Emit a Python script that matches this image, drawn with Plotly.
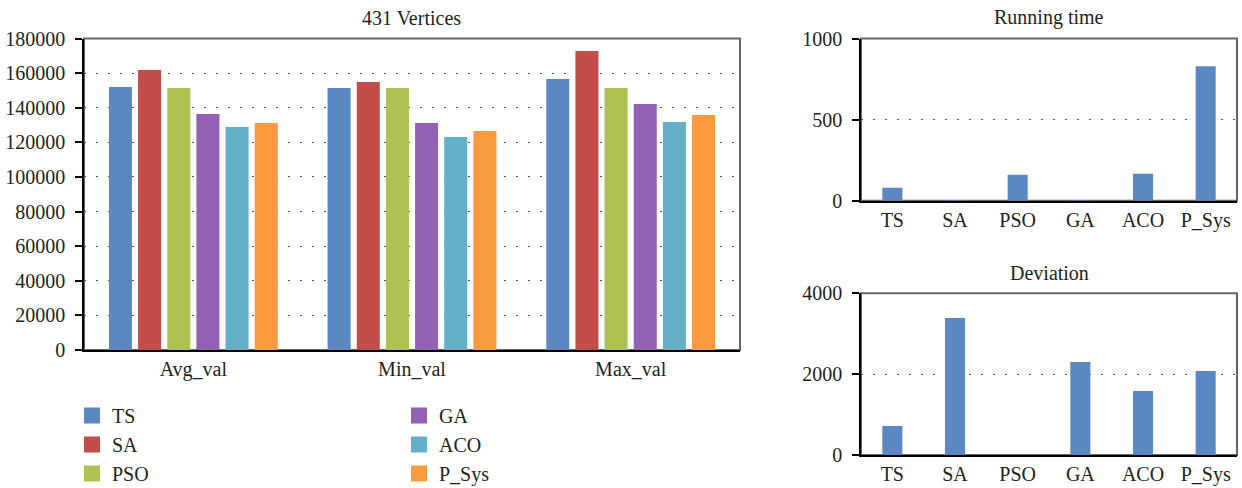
import plotly.graph_objects as go

# ---- data ----
categories = ["Avg_val", "Min_val", "Max_val"]
TS = [152000, 151400, 156600]
SA = [161800, 154900, 172800]
PSO = [151400, 151400, 151400]
GA = [136400, 131200, 142100]
ACO = [128900, 123100, 131700]
P_Sys = [131200, 126500, 135800]

algos = ["TS", "SA", "PSO", "GA", "ACO", "P_Sys"]
running_time = [80, 1, 160, 1, 166, 829]
deviation = [717, 3389, 0, 2300, 1583, 2078]

series = [("TS", TS), ("SA", SA), ("PSO", PSO), ("GA", GA), ("ACO", ACO), ("P_Sys", P_Sys)]
colors = {"TS": "#5B88C3", "SA": "#C34D49", "PSO": "#AEC151",
          "GA": "#9261B3", "ACO": "#63B0C8", "P_Sys": "#F99A3E"}
legend_of = {"TS": "legend", "SA": "legend", "PSO": "legend",
             "GA": "legend2", "ACO": "legend2", "P_Sys": "legend2"}

FONT = "Liberation Serif"
TXT = "#231F20"

fig = go.Figure()
for name, vals in series:
    fig.add_trace(go.Bar(x=categories, y=vals, name=name, marker_color=colors[name],
                         marker_line_width=0, xaxis="x", yaxis="y",
                         showlegend=False, legendgroup=name))
# legend entries with larger square swatches
for name, vals in series:
    fig.add_trace(go.Scatter(x=[None], y=[None], mode="markers", name=name,
                             marker=dict(symbol="square", size=16, color=colors[name],
                                         line=dict(width=0)),
                             xaxis="x", yaxis="y", legend=legend_of[name],
                             legendgroup=name, hoverinfo="skip"))

fig.add_trace(go.Bar(x=algos, y=running_time, marker_color=colors["TS"], marker_line_width=0,
                     width=0.32, xaxis="x2", yaxis="y2", showlegend=False))
fig.add_trace(go.Bar(x=algos, y=deviation, marker_color=colors["TS"], marker_line_width=0,
                     width=0.32, xaxis="x3", yaxis="y3", showlegend=False))

W, H = 1242, 488
def px_x(p): return p / W
def px_y(p): return 1 - p / H

xcommon = dict(showgrid=False, showline=True, linecolor="black", linewidth=2,
               ticks="", tickfont=dict(family=FONT, size=20, color=TXT),
               ticklabelstandoff=0, fixedrange=True)
ycommon = dict(showgrid=True, gridcolor="#555", gridwidth=1, griddash="2px,10px",
               showline=True, linecolor="black", linewidth=1.5, ticks="outside",
               ticklen=7, tickcolor="black", tickwidth=1.5, zeroline=False,
               tickformat="d", tickfont=dict(family=FONT, size=20, color=TXT),
               ticklabelstandoff=6, fixedrange=True)

fig.update_layout(
    width=W, height=H,
    margin=dict(l=0, r=0, t=0, b=0, autoexpand=False),
    paper_bgcolor="white", plot_bgcolor="white",
    barmode="group", bargap=0.2, bargroupgap=0.21,
    xaxis=dict(domain=[px_x(84), px_x(740)], anchor="y", **xcommon),
    yaxis=dict(domain=[px_y(350), px_y(38.5)], anchor="x", range=[0, 180000],
               tickvals=list(range(0, 180001, 20000)), **ycommon),
    xaxis2=dict(domain=[px_x(861), px_x(1237)], anchor="y2", **xcommon),
    yaxis2=dict(domain=[px_y(200.7), px_y(38.5)], anchor="x2", range=[0, 1000],
                tickvals=[0, 500, 1000], **ycommon),
    xaxis3=dict(domain=[px_x(861), px_x(1237)], anchor="y3", **xcommon),
    yaxis3=dict(domain=[px_y(455), px_y(293.3)], anchor="x3", range=[0, 4000],
                tickvals=[0, 2000, 4000], **ycommon),
    legend=dict(x=px_x(72), y=px_y(396), xanchor="left", yanchor="top",
                orientation="v", font=dict(family=FONT, size=20, color=TXT),
                bgcolor="rgba(0,0,0,0)", tracegroupgap=0, itemclick=False,
                itemdoubleclick=False),
    legend2=dict(x=px_x(399), y=px_y(396), xanchor="left", yanchor="top",
                 orientation="v", font=dict(family=FONT, size=20, color=TXT),
                 bgcolor="rgba(0,0,0,0)", tracegroupgap=0, itemclick=False,
                 itemdoubleclick=False),
    showlegend=True,
)

for xr, yr in [("x", "y"), ("x2", "y2"), ("x3", "y3")]:
    fig.add_shape(type="rect", xref=f"{xr} domain", yref=f"{yr} domain",
                  x0=0, x1=1, y0=0, y1=1, line=dict(color="#666", width=2),
                  fillcolor="rgba(0,0,0,0)", layer="below")

titles = [("431 Vertices", 412, 18), ("Running time", 1049, 18), ("Deviation", 1049, 273)]
for t, x, y in titles:
    fig.add_annotation(text=t, x=px_x(x), y=px_y(y), xref="paper", yref="paper",
                       showarrow=False, xanchor="center", yanchor="middle",
                       font=dict(family=FONT, size=20, color=TXT))

fig.write_html("out.html")
